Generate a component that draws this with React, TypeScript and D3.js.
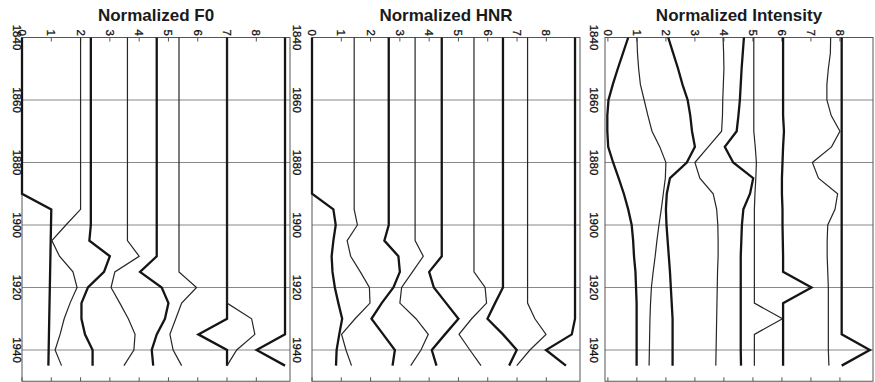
import React, { useEffect, useRef } from "react";
import * as d3 from "d3";

// sample years (5-year steps)
const years = [
  1840, 1845, 1850, 1855, 1860, 1865, 1870, 1875, 1880, 1885, 1890,
  1895, 1900, 1905, 1910, 1915, 1920, 1925, 1930, 1935, 1940, 1945,
];
const gridYears = [1840, 1860, 1880, 1900, 1920, 1940];
const valueTicks = [0, 1, 2, 3, 4, 5, 6, 7, 8];
// alternating line weights, same for every panel
const heavy = [true, false, true, false, true, false, true, false, true];

const f0Lines = [
  [0, 0, 0, 0, 0, 0, 0, 0, 0, 0, 0, 1.0, 0.99, 0.98, 0.97, 0.96, 0.95, 0.94, 0.93, 0.92, 0.91, 0.9],
  [2, 2, 2, 2, 2, 2, 2, 2, 2, 2, 2, 2, 1.5, 1.02, 1.28, 1.74, 1.88, 1.64, 1.44, 1.3, 1.13, 1.35],
  [2.35, 2.35, 2.35, 2.35, 2.35, 2.35, 2.35, 2.35, 2.35, 2.35, 2.35, 2.35, 2.35, 2.3, 3.0, 2.8, 2.25, 2.03, 2.03, 2.15, 2.41, 2.41],
  [3.6, 3.6, 3.6, 3.6, 3.6, 3.6, 3.6, 3.6, 3.6, 3.6, 3.6, 3.6, 3.6, 3.6, 4.0, 3.17, 3.04, 3.34, 3.63, 3.86, 3.82, 3.48],
  [4.6, 4.6, 4.6, 4.6, 4.6, 4.6, 4.6, 4.6, 4.6, 4.6, 4.6, 4.6, 4.6, 4.6, 4.6, 4.03, 4.77, 5.0, 4.88, 4.6, 4.43, 4.48],
  [5.36, 5.36, 5.36, 5.36, 5.36, 5.36, 5.36, 5.36, 5.36, 5.36, 5.36, 5.36, 5.36, 5.36, 5.36, 5.36, 5.96, 5.45, 5.25, 5.05, 5.16, 5.45],
  [7, 7, 7, 7, 7, 7, 7, 7, 7, 7, 7, 7, 7, 7, 7, 7, 7, 7, 7, 6.02, 7.0, 7.0],
  [7, 7, 7, 7, 7, 7, 7, 7, 7, 7, 7, 7, 7, 7, 7, 7, 7, 7, 7.84, 7.95, 7.33, 7.0],
  [8.98, 8.98, 8.98, 8.98, 8.98, 8.98, 8.98, 8.98, 8.98, 8.98, 8.98, 8.98, 8.98, 8.98, 8.98, 8.98, 8.98, 8.98, 8.98, 8.98, 8.01, 8.98],
];

const hnrLines = [
  [0, 0, 0, 0, 0, 0, 0, 0, 0, 0, 0, 0.73, 0.81, 0.73, 0.67, 0.7, 0.78, 0.9, 1.03, 0.93, 0.84, 0.82],
  [1.44, 1.44, 1.44, 1.44, 1.44, 1.44, 1.44, 1.44, 1.44, 1.44, 1.44, 1.44, 1.55, 1.2, 1.32, 1.65, 1.96, 1.98, 1.47, 1.01, 1.16, 1.35],
  [2.62, 2.62, 2.62, 2.62, 2.62, 2.62, 2.62, 2.62, 2.62, 2.62, 2.62, 2.62, 2.62, 2.47, 2.95, 3.0, 2.78, 2.38, 2.03, 2.43, 2.83, 2.75],
  [3.52, 3.52, 3.52, 3.52, 3.52, 3.52, 3.52, 3.52, 3.52, 3.52, 3.52, 3.52, 3.52, 3.52, 3.8, 3.43, 3.06, 3.0, 3.55, 3.97, 3.72, 3.37],
  [4.43, 4.43, 4.43, 4.43, 4.43, 4.43, 4.43, 4.43, 4.43, 4.43, 4.43, 4.43, 4.43, 4.43, 4.43, 4.0, 4.16, 4.58, 5.0, 4.54, 4.09, 4.25],
  [5.53, 5.53, 5.53, 5.53, 5.53, 5.53, 5.53, 5.53, 5.53, 5.53, 5.53, 5.53, 5.53, 5.53, 5.53, 5.53, 5.91, 5.96, 5.45, 5.02, 5.39, 5.77],
  [6.52, 6.52, 6.52, 6.52, 6.52, 6.52, 6.52, 6.52, 6.52, 6.52, 6.52, 6.52, 6.52, 6.52, 6.52, 6.52, 6.52, 6.25, 5.99, 6.52, 6.99, 6.73],
  [7.36, 7.36, 7.36, 7.36, 7.36, 7.36, 7.36, 7.36, 7.36, 7.36, 7.36, 7.36, 7.36, 7.36, 7.36, 7.36, 7.36, 7.36, 7.61, 7.99, 7.44, 6.99],
  [8.98, 8.98, 8.98, 8.98, 8.98, 8.98, 8.98, 8.98, 8.98, 8.98, 8.98, 8.98, 8.98, 8.98, 8.98, 8.98, 8.98, 8.98, 8.98, 8.87, 7.99, 8.67],
];

const intensityLines = [
  [0.7, 0.52, 0.34, 0.17, 0.02, -0.02, -0.02, 0.01, 0.18, 0.37, 0.55, 0.7, 0.82, 0.87, 0.9, 0.95, 0.97, 0.99, 0.99, 0.99, 0.99, 0.99],
  [1.0, 1.02, 1.06, 1.12, 1.25, 1.38, 1.52, 1.79, 2.0, 1.98, 1.91, 1.84, 1.76, 1.69, 1.63, 1.56, 1.5, 1.47, 1.45, 1.44, 1.43, 1.42],
  [2.08, 2.25, 2.42, 2.57, 2.75, 2.84, 2.9, 3.0, 2.72, 2.14, 2.03, 2.0, 2.02, 2.06, 2.1, 2.14, 2.17, 2.2, 2.23, 2.23, 2.23, 2.23],
  [3.97, 3.99, 4.0, 3.98, 3.96, 3.95, 3.92, 3.46, 3.0, 3.17, 3.63, 3.75, 3.79, 3.8, 3.8, 3.78, 3.77, 3.76, 3.75, 3.74, 3.73, 3.72],
  [4.69, 4.65, 4.61, 4.58, 4.55, 4.5, 4.44, 4.03, 4.32, 5.01, 4.9, 4.67, 4.62, 4.6, 4.58, 4.58, 4.58, 4.58, 4.58, 4.58, 4.58, 4.59],
  [5.03, 5.03, 5.03, 5.03, 5.03, 5.03, 5.03, 5.08, 5.12, 5.1, 5.07, 5.05, 5.05, 5.05, 5.05, 5.05, 5.05, 5.05, 6.02, 5.05, 5.05, 5.05],
  [6.04, 6.04, 6.04, 6.04, 6.04, 6.04, 6.07, 6.04, 6.02, 6.0, 6.0, 6.02, 6.02, 6.03, 6.04, 6.04, 7.02, 6.04, 6.04, 6.04, 6.04, 6.04],
  [7.68, 7.67, 7.6, 7.55, 7.55, 7.7, 8.0, 7.71, 7.05, 7.26, 7.92, 7.83, 7.58, 7.56, 7.56, 7.58, 7.6, 7.6, 7.6, 7.6, 7.6, 7.62],
  [8.06, 8.06, 8.06, 8.06, 8.06, 8.06, 8.06, 8.06, 8.06, 8.06, 8.06, 8.06, 8.06, 8.06, 8.06, 8.06, 8.06, 8.06, 8.06, 8.06, 9.03, 8.06],
];

const panels = [
  { title: "Normalized F0", lines: f0Lines, domain: [0, 9.15], left: 22, right: 290, yearX: 16.5 },
  { title: "Normalized HNR", lines: hnrLines, domain: [0, 9.15], left: 312, right: 580, yearX: 297 },
  { title: "Normalized Intensity", lines: intensityLines, domain: [-0.1, 9.14], left: 605, right: 873, yearX: 593.5 },
];

const width = 875;
const height = 382;
const top = 37.5;
const bottom = 381.25;

const App = () => {
  const svgRef = useRef(null);

  useEffect(() => {
    const svg = d3.select(svgRef.current);
    svg.selectAll("*").remove();

    const y = d3.scaleLinear().domain([1840, 1950]).range([top, bottom]);
    const font = "'Liberation Sans', Arial, Helvetica, sans-serif";

    panels.forEach((p) => {
      const x = d3.scaleLinear().domain(p.domain).range([p.left, p.right]);
      const g = svg.append("g");

      // horizontal grid lines
      g.selectAll(".grid")
        .data(gridYears.slice(1))
        .enter()
        .append("line")
        .attr("x1", p.left)
        .attr("x2", p.right)
        .attr("y1", (d) => y(d))
        .attr("y2", (d) => y(d))
        .attr("stroke", "#7a7a7a")
        .attr("stroke-width", 0.9);

      // frame
      g.append("rect")
        .attr("x", p.left)
        .attr("y", top)
        .attr("width", p.right - p.left)
        .attr("height", bottom - top)
        .attr("fill", "none")
        .attr("stroke", "#555")
        .attr("stroke-width", 1);

      // ticks top & bottom (inward)
      valueTicks.forEach((v) => {
        g.append("line")
          .attr("x1", x(v)).attr("x2", x(v))
          .attr("y1", top).attr("y2", top + 4)
          .attr("stroke", "#555");
        g.append("line")
          .attr("x1", x(v)).attr("x2", x(v))
          .attr("y1", bottom).attr("y2", bottom - 4)
          .attr("stroke", "#555");
      });

      // value labels, rotated
      g.selectAll(".vlab")
        .data(valueTicks)
        .enter()
        .append("text")
        .attr("transform", (d) => `translate(${x(d)},36) rotate(90)`)
        .attr("text-anchor", "end")
        .attr("dominant-baseline", "central")
        .attr("font-family", font)
        .attr("font-size", "11.5px")
        .attr("fill", "#111")
        .attr("stroke", "#111")
        .attr("stroke-width", 0.3)
        .text((d) => d);

      // year labels, rotated
      g.selectAll(".ylab")
        .data(gridYears)
        .enter()
        .append("text")
        .attr("transform", (d) => `translate(${p.yearX},${y(d)}) rotate(90)`)
        .attr("text-anchor", "middle")
        .attr("dominant-baseline", "central")
        .attr("font-family", font)
        .attr("font-size", "11.5px")
        .attr("fill", "#111")
        .attr("stroke", "#111")
        .attr("stroke-width", 0.3)
        .text((d) => d);

      // series lines
      const line = d3
        .line<number>()
        .x((d) => x(d))
        .y((d, i) => y(years[i]));

      p.lines.forEach((vals, i) => {
        g.append("path")
          .attr("d", line(vals))
          .attr("fill", "none")
          .attr("stroke", heavy[i] ? "#151515" : "#262626")
          .attr("stroke-width", heavy[i] ? 2.3 : 1.2)
          .attr("stroke-linejoin", "miter");
      });

      // title
      svg.append("text")
        .attr("x", (p.left + p.right) / 2)
        .attr("y", 21)
        .attr("text-anchor", "middle")
        .attr("font-family", font)
        .attr("font-size", "17px")
        .attr("font-weight", "bold")
        .attr("fill", "#1a1a1a")
        .text(p.title);
    });
  }, []);

  return (
    <svg
      ref={svgRef}
      width={width}
      height={height}
      style={{ position: "absolute", left: 0, top: 0, background: "#fff" }}
    ></svg>
  );
};

export default App;
